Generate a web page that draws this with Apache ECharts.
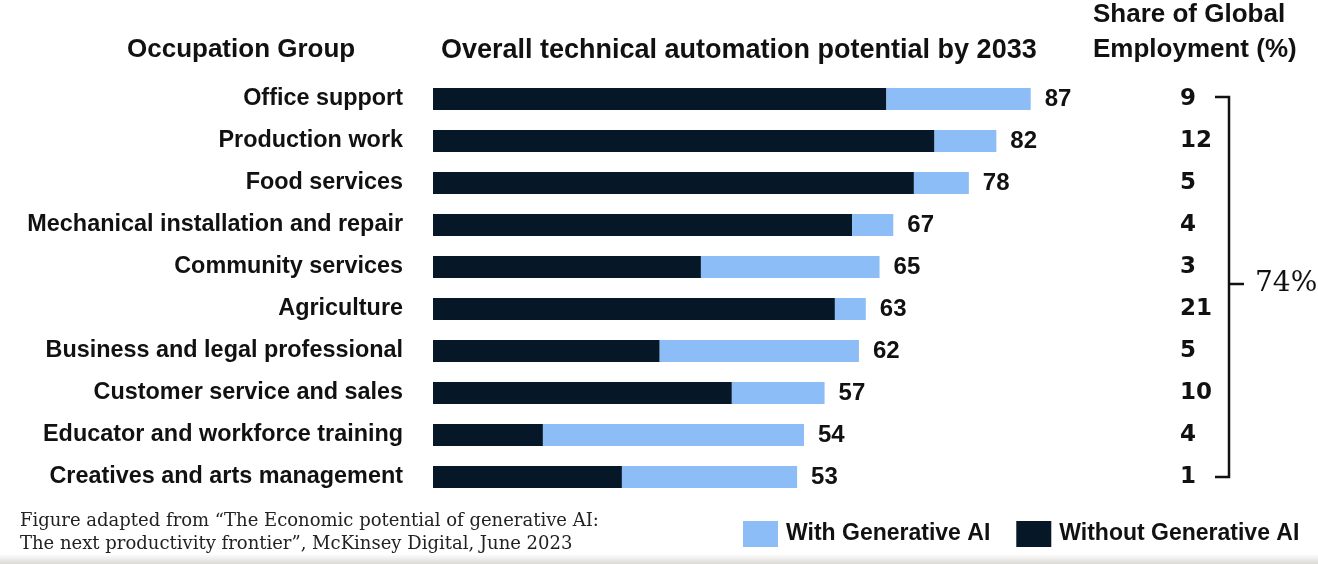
<!DOCTYPE html>
<html>
<head>
    <meta charset="utf-8">
    <title>Technical automation potential</title>
    <script src="https://cdn.jsdelivr.net/npm/echarts@6/dist/echarts.min.js"></script>
    <style>
        html, body { margin: 0; padding: 0; background: #fff; }
        #chart1 { width: 1318px; height: 564px; }
    </style>
</head>
<body>
<div id="chart1"></div>
<script type="text/javascript">
    // 数据
    var occupations = ['Office support', 'Production work', 'Food services', 'Mechanical installation and repair',
        'Community services', 'Agriculture', 'Business and legal professional', 'Customer service and sales',
        'Educator and workforce training', 'Creatives and arts management'];
    var totalWithAI = [87, 82, 78, 67, 65, 63, 62, 57, 54, 53];
    var withoutAI = [66, 73, 70, 61, 39, 58.5, 33, 43.5, 16, 27.5];
    var employmentShare = ['9', '12', '5', '4', '3', '21', '5', '10', '4', '1'];
    var addedByAI = totalWithAI.map(function (t, i) { return t - withoutAI[i]; });

    var dark = '#061827';
    var light = '#8dbdf7';
    var sans = 'Liberation Sans, Arial, sans-serif';
    var serif = 'DejaVu Serif, serif';

    var myChart = echarts.init(document.getElementById('chart1'));
    myChart.setOption({
        animation: false,
        backgroundColor: '#fff',
        grid: {left: 433, right: 198, top: 78, bottom: 66},
        legend: {
            data: ['With Generative AI', 'Without Generative AI'],
            left: 738,
            top: 516,
            itemWidth: 35,
            itemHeight: 26,
            itemGap: 26,
            icon: 'rect',
            textStyle: {fontFamily: sans, fontWeight: 'bold', fontSize: 23, color: '#111', padding: [0, 0, 0, 3]}
        },
        xAxis: {
            type: 'value', min: 0, max: 100,
            show: false
        },
        yAxis: [{
            type: 'category',
            data: occupations,
            inverse: true,
            axisLine: {show: false},
            axisTick: {show: false},
            axisLabel: {margin: 30, fontFamily: sans, fontWeight: 'bold', fontSize: 23.4, color: '#111'}
        }, {
            type: 'category',
            data: employmentShare,
            inverse: true,
            position: 'right',
            axisLine: {show: false},
            axisTick: {show: false},
            axisLabel: {margin: 60, align: 'left', fontFamily: 'DejaVu Sans, sans-serif', fontWeight: 'bold', fontSize: 23, color: '#111'}
        }],
        series: [{
            name: 'Without Generative AI',
            type: 'bar',
            stack: 'total',
            barWidth: 22,
            itemStyle: {color: dark},
            data: withoutAI
        }, {
            name: 'With Generative AI',
            type: 'bar',
            stack: 'total',
            barWidth: 22,
            itemStyle: {color: light},
            label: {
                show: true,
                position: 'right',
                distance: 14,
                fontFamily: sans, fontWeight: 'bold', fontSize: 24, color: '#111',
                formatter: function (p) { return totalWithAI[p.dataIndex]; }
            },
            data: addedByAI
        }],
        graphic: [
            {type: 'text', left: 127, top: 37, style: {text: 'Occupation Group', font: 'bold 26px ' + sans, fill: '#111'}},
            {type: 'text', left: 441, top: 37, style: {text: 'Overall technical automation potential by 2033', font: 'bold 27px ' + sans, fill: '#111'}},
            {type: 'text', left: 1093, top: 2, style: {text: 'Share of Global', font: 'bold 26px ' + sans, fill: '#111'}},
            {type: 'text', left: 1093, top: 37, style: {text: 'Employment (%)', font: 'bold 26px ' + sans, fill: '#111'}},
            {type: 'polyline', shape: {points: [[1215, 97], [1229, 97], [1229, 477], [1215, 477]]},
                style: {stroke: '#111', lineWidth: 2.5, fill: null}},
            {type: 'line', shape: {x1: 1229, y1: 284, x2: 1244, y2: 284}, style: {stroke: '#111', lineWidth: 2.5}},
            {type: 'text', left: 1255, top: 270, style: {text: '74%', font: '28px ' + serif, fill: '#111'}},
            {type: 'text', left: 20, top: 510, style: {text: 'Figure adapted from \u201cThe Economic potential of generative AI:\nThe next productivity frontier\u201d, McKinsey Digital, June 2023',
                font: '18px ' + serif, fill: '#222', lineHeight: 23}},
            {type: 'rect', shape: {x: 0, y: 554, width: 1318, height: 10}, silent: true, z: -1,
                style: {fill: new echarts.graphic.LinearGradient(0, 0, 0, 1, [{offset: 0, color: '#ffffff'}, {offset: 1, color: '#dcdad6'}])}}
        ]
    });
</script>
</body>
</html>
